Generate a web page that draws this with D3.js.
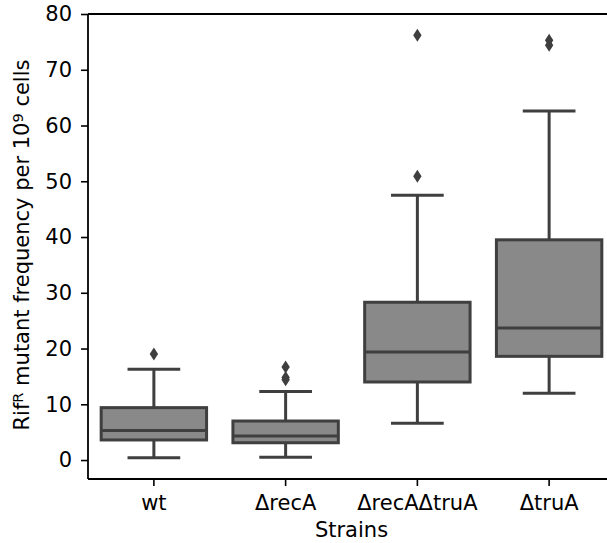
<!DOCTYPE html>
<html>
<head>
<meta charset="utf-8">
<script src="https://cdn.jsdelivr.net/npm/d3@7"></script>
<style>
  body { margin: 0; background: #fff; }
  text { font-family: "DejaVu Sans", sans-serif; fill: #000; }
</style>
</head>
<body>
<svg id="chart" width="607" height="543"></svg>
<script>
// strains on the x axis
const strains = ['wt', '\u0394recA', '\u0394recA\u0394truA', '\u0394truA'];

// box statistics (per strain)
const whiskerLow  = [0.4, 0.5, 6.6, 12.0];
const q1          = [3.6, 3.1, 14.0, 18.6];
const medians     = [5.3, 4.3, 19.4, 23.7];
const q3          = [9.4, 7.0, 28.3, 39.5];
const whiskerHigh = [16.3, 12.3, 47.5, 62.6];

// outliers
const outliers = [
    [19.0],
    [16.7, 14.8, 14.4],
    [76.2, 50.9],
    [75.3, 74.4]
];

const yTicks = [0, 10, 20, 30, 40, 50, 60, 70, 80];

const svg = d3.select('#chart');
const mLeft = 88, mRight = 615, mTop = 14, mBottom = 479;
const fontSize = '21px';

let x = d3.scaleBand()
    .domain(strains)
    .range([mLeft, mRight])
    .paddingInner(0.2)
    .paddingOuter(0.1);

let y = d3.scaleLinear()
    .domain([-3.4, 80])
    .range([mBottom, mTop]);

const lineColor = '#3f3f3f';
const fillColor = '#898989';

let data = strains.map((s, i) => ({
    name: s,
    lo: whiskerLow[i], q1: q1[i], med: medians[i], q3: q3[i], hi: whiskerHigh[i],
    out: outliers[i]
}));

let g = svg.append('g');
let bw = x.bandwidth();

data.forEach(d => {
    let cx = x(d.name) + bw / 2;
    // whiskers
    g.append('line').attr('x1', cx).attr('x2', cx).attr('y1', y(d.q3)).attr('y2', y(d.hi))
        .attr('stroke', lineColor).attr('stroke-width', 3);
    g.append('line').attr('x1', cx).attr('x2', cx).attr('y1', y(d.q1)).attr('y2', y(d.lo))
        .attr('stroke', lineColor).attr('stroke-width', 3);
    // caps
    [d.lo, d.hi].forEach(v => {
        g.append('line').attr('x1', cx - bw / 4).attr('x2', cx + bw / 4)
            .attr('y1', y(v)).attr('y2', y(v))
            .attr('stroke', lineColor).attr('stroke-width', 3);
    });
    // box
    g.append('rect')
        .attr('x', x(d.name)).attr('width', bw)
        .attr('y', y(d.q3)).attr('height', y(d.q1) - y(d.q3))
        .attr('fill', fillColor).attr('stroke', lineColor).attr('stroke-width', 3);
    // median
    g.append('line').attr('x1', x(d.name)).attr('x2', x(d.name) + bw)
        .attr('y1', y(d.med)).attr('y2', y(d.med))
        .attr('stroke', lineColor).attr('stroke-width', 3);
    // outliers as thin diamonds
    d.out.forEach(v => {
        let py = y(v);
        g.append('path')
            .attr('d', `M${cx},${py - 6.5}L${cx + 4.2},${py}L${cx},${py + 6.5}L${cx - 4.2},${py}Z`)
            .attr('fill', lineColor);
    });
});

// axes
let yAxis = svg.append('g')
    .attr('transform', `translate(${mLeft},0)`)
    .call(d3.axisLeft(y).tickValues(yTicks).tickSize(7).tickPadding(9).tickSizeOuter(0));
let xAxis = svg.append('g')
    .attr('transform', `translate(0,${mBottom})`)
    .call(d3.axisBottom(x).tickSize(7).tickPadding(9).tickSizeOuter(0));

[yAxis, xAxis].forEach(a => {
    a.select('.domain').remove();
    a.selectAll('line').attr('stroke', '#000').attr('stroke-width', 1.6);
    a.selectAll('text').style('font-size', fontSize).style('font-family', '"DejaVu Sans", sans-serif').attr('fill', '#000');
});

// spines
svg.append('line').attr('x1', mLeft).attr('x2', mLeft).attr('y1', mTop).attr('y2', mBottom)
    .attr('stroke', '#000').attr('stroke-width', 1.8);
svg.append('line').attr('x1', mLeft).attr('x2', mRight).attr('y1', mBottom).attr('y2', mBottom)
    .attr('stroke', '#000').attr('stroke-width', 1.8);
svg.append('line').attr('x1', mLeft).attr('x2', mRight).attr('y1', mTop).attr('y2', mTop)
    .attr('stroke', '#000').attr('stroke-width', 1.8);
svg.append('line').attr('x1', mRight).attr('x2', mRight).attr('y1', mTop).attr('y2', mBottom)
    .attr('stroke', '#000').attr('stroke-width', 1.8);

// axis labels
svg.append('text')
    .attr('x', (mLeft + mRight) / 2).attr('y', 537)
    .attr('text-anchor', 'middle').style('font-size', fontSize)
    .text('Strains');

let yl = svg.append('text')
    .attr('transform', `translate(29,245) rotate(-90)`)
    .attr('text-anchor', 'middle').style('font-size', fontSize);
yl.append('tspan').text('Rif');
yl.append('tspan').attr('baseline-shift', '40%').style('font-size', '14.5px').text('R');
yl.append('tspan').text(' mutant frequency per 10');
yl.append('tspan').attr('baseline-shift', '40%').style('font-size', '14.5px').text('9');
yl.append('tspan').text(' cells');
</script>
</body>
</html>
